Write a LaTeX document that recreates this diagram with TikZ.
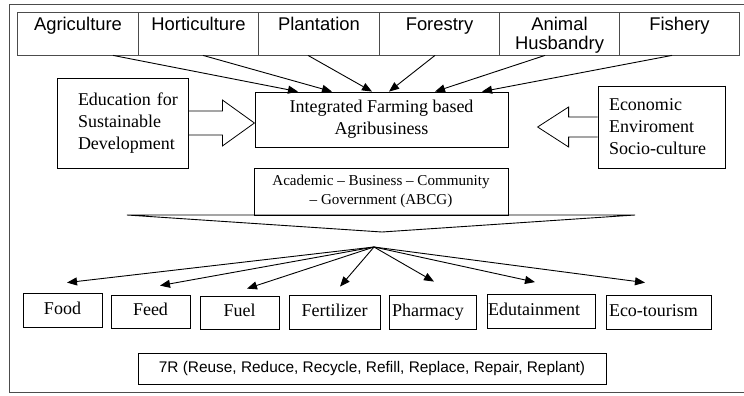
\documentclass[tikz,border=0pt]{standalone}
\usepackage{fontspec}
\setmainfont{Liberation Serif}
\newfontfamily\arialf{Liberation Sans}
\usetikzlibrary{arrows.meta,calc}
\newcommand{\celltext}[1]{\parbox[c][43pt][t]{118pt}{\centering\rule{0pt}{19pt}#1\par}}
\begin{document}
\begin{tikzpicture}[x=1pt,y=-1pt,
  cell/.style={draw=black!70, line width=0.8pt, minimum width=120.5pt, minimum height=43pt, inner sep=0pt, font=\arialf\fontsize{18.4}{19}\selectfont},
  box/.style={draw, line width=0.8pt, inner sep=0pt, font=\fontsize{18}{22}\selectfont},
  outbox/.style={box, minimum height=34pt, align=center},
  arr/.style={line width=0.9pt, -{Triangle[length=10pt,width=8pt]}},
  blockarrow/.style={draw, line width=0.8pt, line join=miter}]
\useasboundingbox (0,0) rectangle (744,396);
% outer frame
\draw[black!70, line width=0.9pt] (744,4) -- (9,4) -- (9,392) -- (744,392);

% top row
\node[cell] (agri)  at (78,33.5)    {\celltext{Agriculture}};
\node[cell] (hort)  at (198.5,33.5) {\celltext{Horticulture}};
\node[cell] (plant) at (319,33.5)   {\celltext{Plantation}};
\node[cell] (fore)  at (439.5,33.5) {\celltext{Forestry}};
\node[cell] (anim)  at (559.5,33.5) {\celltext{Animal\\Husbandry}};
\node[cell] (fish)  at (679.5,33.5) {\celltext{Fishery}};

% centre
\node[box, minimum width=253pt, minimum height=55pt, align=center] (ifab) at (381.5,119.5)
  {Integrated Farming based\\Agribusiness};
\node[box, minimum height=90pt, text width=89pt, inner xsep=21pt, align=left] (edu) at (122.5,123)
  {\mbox{Education for}\\\mbox{Sustainable}\\\mbox{Development}};
\node[box, minimum height=82pt, text width=105pt, inner xsep=11pt, align=left] (econ) at (661.5,127)
  {Economic\\Enviroment\\Socio-culture};
\draw[line width=1.6pt] (econ.north east) -- (econ.south east) -- (econ.south west);
\node[box, minimum width=254pt, minimum height=47pt, align=center, font=\fontsize{15.1}{19}\selectfont] (abcg) at (381,191.5)
  {Academic -- Business -- Community\\-- Government (ABCG)};

% top arrows
\draw[arr] ([xshift=35pt]agri.south)   -- ([xshift=-83.5pt]ifab.north);
\draw[arr] ([xshift=4.5pt]hort.south)  -- ([xshift=-49.5pt]ifab.north);
\draw[arr] ([xshift=-11pt]plant.south) -- ([xshift=-9.5pt]ifab.north);
\draw[arr] ([xshift=-4.5pt]fore.south) -- ([xshift=7.5pt]ifab.north);
\draw[arr] ([xshift=-14.5pt]anim.south) -- ([xshift=53.5pt]ifab.north);
\draw[arr] ([xshift=-7.5pt]fish.south) -- ([xshift=100.5pt]ifab.north);

% block arrows
\draw[blockarrow] ($(edu.east)+(0,-12)$) -- ++(34,0) -- ++(0,-11) -- ($(edu.east)+(66,0)$)
  -- ($(edu.east)+(34,23)$) -- ++(0,-11) -- ($(edu.east)+(0,12)$);
\draw[blockarrow] ($(econ.west)+(0,-10)$) -- ++(-29,0) -- ++(0,-10) -- ($(econ.west)+(-60,0)$)
  -- ($(econ.west)+(-29,20)$) -- ++(0,-10) -- ($(econ.west)+(0,10)$);

% funnel
\coordinate (fl) at (127,215);
\coordinate (fr) at (635,215);
\coordinate (fb) at (382,232);
\draw[line width=0.9pt, line join=miter] (fl) -- (fr) -- (fb) -- cycle;
\coordinate (hub) at (374,247);

% outputs
\node[outbox, minimum width=79pt] (food) at (62.5,310) {\strut Food};
\node[outbox, minimum width=79pt, minimum height=33pt] (feed) at (150.5,311.5) {\strut Feed};
\node[outbox, minimum width=79pt, minimum height=33pt] (fuel) at (239.5,312.5) {\strut Fuel};
\node[outbox, minimum width=91pt] (fert) at (334.5,312) {\strut Fertilizer};
\node[box, minimum height=34pt, text width=81pt, inner xsep=3pt, align=left] (pharm) at (432.5,312) {\strut Pharmacy};
\node[box, minimum height=34pt, text width=106pt, inner xsep=1pt, align=left] (edut) at (541,311.5) {\strut Edutainment};
\node[box, minimum height=34pt, text width=99pt, inner xsep=3pt, align=left] (eco) at (658.5,312) {\strut Eco-tourism};

\draw[arr] (hub) -- ([xshift=4.5pt,yshift=10pt]food.north);
\draw[arr] (hub) -- ([xshift=9.5pt,yshift=9pt]feed.north);
\draw[arr] (hub) -- ([xshift=7.5pt,yshift=7pt]fuel.north);
\draw[arr] (hub) -- ([xshift=5.5pt,yshift=8pt]fert.north);
\draw[arr] (hub) -- ([xshift=1.5pt,yshift=13pt]pharm.north);
\draw[arr] (hub) -- ([xshift=-6pt,yshift=12pt]edut.north);
\draw[arr] (hub) -- ([xshift=-13.5pt,yshift=12pt]eco.north);

% 7R
\node[box, minimum width=468pt, minimum height=31pt, font=\arialf\fontsize{15.4}{18}\selectfont] (sevenr) at (372,368.5)
  {7R (Reuse, Reduce, Recycle, Refill, Replace, Repair, Replant)};
\end{tikzpicture}
\end{document}
